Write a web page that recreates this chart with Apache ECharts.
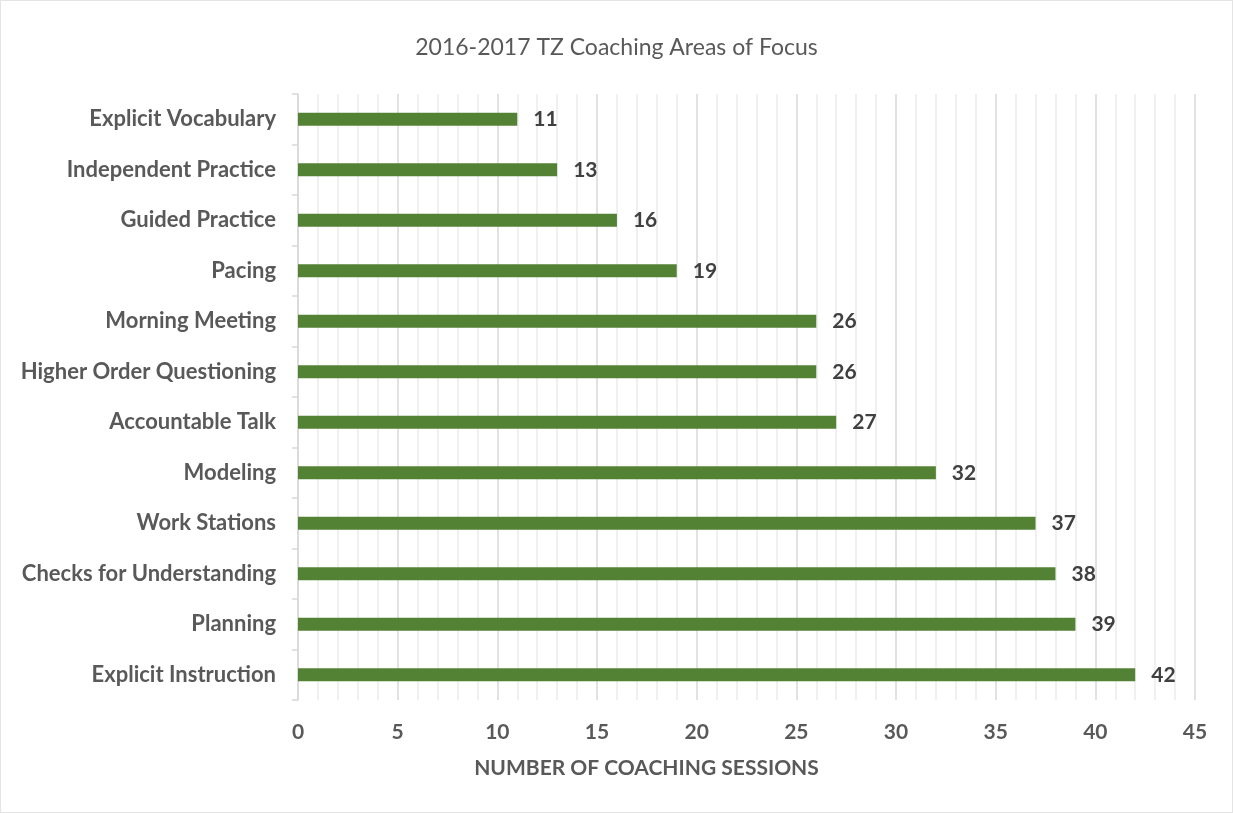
<!DOCTYPE html>
<html lang="en">
<head>
<meta charset="UTF-8">
<title>2016-2017 TZ Coaching Areas of Focus</title>
<script src="https://cdn.jsdelivr.net/npm/echarts@6/dist/echarts.min.js"></script>
<style>
  html, body { margin: 0; padding: 0; background: #fff; }
  #main { width: 1233px; height: 813px; box-sizing: border-box; border: 1px solid #e4e4e4; }
</style>
</head>
<body>
<div id="main"></div>
<script>
// categories from bottom to top
var categories = ['Explicit Instruction', 'Planning', 'Checks for Understanding', 'Work Stations',
  'Modeling', 'Accountable Talk', 'Higher Order Questioning', 'Morning Meeting',
  'Pacing', 'Guided Practice', 'Independent Practice', 'Explicit Vocabulary'];
var sessions = [42, 39, 38, 37, 32, 27, 26, 26, 19, 16, 13, 11];

var font = 'Lato, "Open Sans", sans-serif';
var myChart = echarts.init(document.getElementById('main'));

var option = {
  animation: false,
  title: {
    text: '2016-2017 TZ Coaching Areas of Focus',
    left: 'center',
    top: 30,
    textStyle: { fontFamily: font, fontSize: 23, fontWeight: 'normal', color: '#595959' }
  },
  grid: { left: 297, right: 37, top: 93, bottom: 112, containLabel: false },
  xAxis: {
    type: 'value',
    min: 0,
    max: 45,
    interval: 5,
    name: 'NUMBER OF COACHING SESSIONS',
    nameLocation: 'middle',
    nameGap: 58,
    // the axis title sits left of the plot centre in the original
    nameTextStyle: { fontFamily: font, fontSize: 21, fontWeight: 'bold', color: '#595959', padding: [0, 200, 0, 0] },
    axisLine: { show: false },
    axisTick: { show: false },
    axisLabel: { margin: 22, fontFamily: font, fontSize: 21, fontWeight: 'bold', color: '#595959' },
    splitLine: { show: true, lineStyle: { color: '#d9d9d9', width: 1.5 } },
    minorTick: { show: false, splitNumber: 5 },
    minorSplitLine: { show: true, lineStyle: { color: '#ececec', width: 1.5 } }
  },
  yAxis: {
    type: 'category',
    data: categories,
    axisLine: { show: true, lineStyle: { color: '#d9d9d9', width: 1.5 } },
    axisTick: { show: true, length: 6, lineStyle: { color: '#d9d9d9', width: 1.5 } },
    axisLabel: { margin: 22, fontFamily: font, fontSize: 22, fontWeight: 'bold', color: '#595959' }
  },
  series: [{
    type: 'bar',
    data: sessions,
    barWidth: '26%',
    itemStyle: { color: '#548235' },
    label: {
      show: true,
      position: 'right',
      distance: 16,
      fontFamily: font,
      fontSize: 21,
      fontWeight: 'bold',
      color: '#404040'
    }
  }]
};
myChart.setOption(option);
</script>
</body>
</html>
